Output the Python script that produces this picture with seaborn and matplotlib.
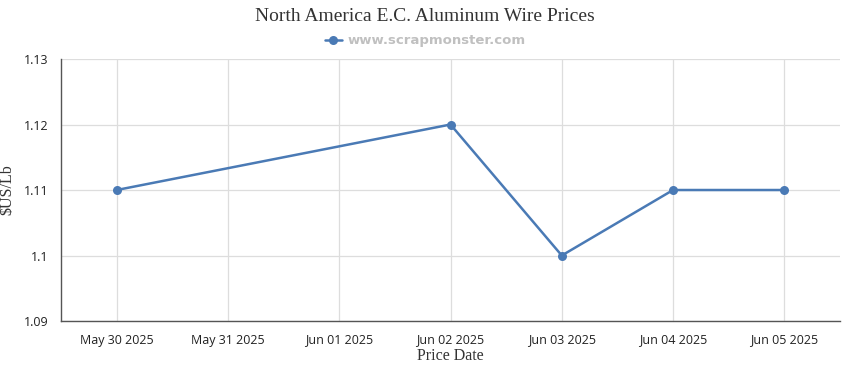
import pandas as pd
import matplotlib
matplotlib.use("Agg")
import matplotlib.pyplot as plt
import matplotlib.dates as mdates
import seaborn as sns

# data
dates = ["2025-05-30", "2025-06-02", "2025-06-03", "2025-06-04", "2025-06-05"]
prices = [1.11, 1.12, 1.10, 1.11, 1.11]
tick_dates = ["2025-05-30", "2025-05-31", "2025-06-01", "2025-06-02",
              "2025-06-03", "2025-06-04", "2025-06-05"]
y_ticks = [1.09, 1.10, 1.11, 1.12, 1.13]
y_labels = ["1.09", "1.1", "1.11", "1.12", "1.13"]

df = pd.DataFrame({"Date": pd.to_datetime(dates), "Price": prices})

sns.set_style("white")
plt.rcParams['font.family'] = ['DejaVu Sans']

fig = plt.figure(figsize=(8.5, 3.7), dpi=100)
ax = fig.add_axes([0.0718, 0.1324, 0.9164, 0.7081])

line_color = "#4a7ab5"
sns.lineplot(data=df, x="Date", y="Price", ax=ax, color=line_color,
             marker="o", markersize=6.5, markeredgewidth=0, linewidth=1.8,
             label="www.scrapmonster.com", legend=False)

ticks = pd.to_datetime(tick_dates)
ax.set_xlim(ticks[0] - pd.Timedelta(hours=12), ticks[-1] + pd.Timedelta(hours=12))
ax.set_xticks(ticks)
ax.xaxis.set_major_formatter(mdates.DateFormatter("%b %d %Y"))
ax.set_ylim(1.09, 1.13)
ax.set_yticks(y_ticks)
ax.set_yticklabels(y_labels)

ax.grid(True, color="#dddddd", linewidth=0.9)
for s in ["top", "right"]:
    ax.spines[s].set_visible(False)
ax.spines["left"].set_color("#555555")
ax.spines["bottom"].set_color("#555555")
ax.spines["left"].set_linewidth(1)
ax.spines["bottom"].set_linewidth(1)
ax.tick_params(axis="both", length=5, width=1, color="#555555",
               labelsize=9, labelcolor="#222222", pad=4)
for lbl in ax.get_xticklabels() + ax.get_yticklabels():
    lbl.set_family(["Open Sans", "DejaVu Sans"])

ax.set_xlabel("Price Date", family="Liberation Serif", fontsize=11.5,
              color="#333333", labelpad=1)
ax.set_ylabel(r"\$US/Lb", family="Liberation Serif", fontsize=11.5,
              color="#333333", labelpad=6)

fig.text(0.5, 0.955, "North America E.C. Aluminum Wire Prices",
         ha="center", va="center", family="Liberation Serif",
         fontsize=14, color="#333333")

handles, labels = ax.get_legend_handles_labels()
leg = fig.legend(handles, labels, loc="center", bbox_to_anchor=(0.5, 0.89),
                 frameon=False, handlelength=1.3, handletextpad=0.4,
                 prop={"family": "DejaVu Sans", "weight": "bold", "size": 9.5})
for t in leg.get_texts():
    t.set_color("#c0c0c0")

fig.savefig("out.png", dpi=100)
